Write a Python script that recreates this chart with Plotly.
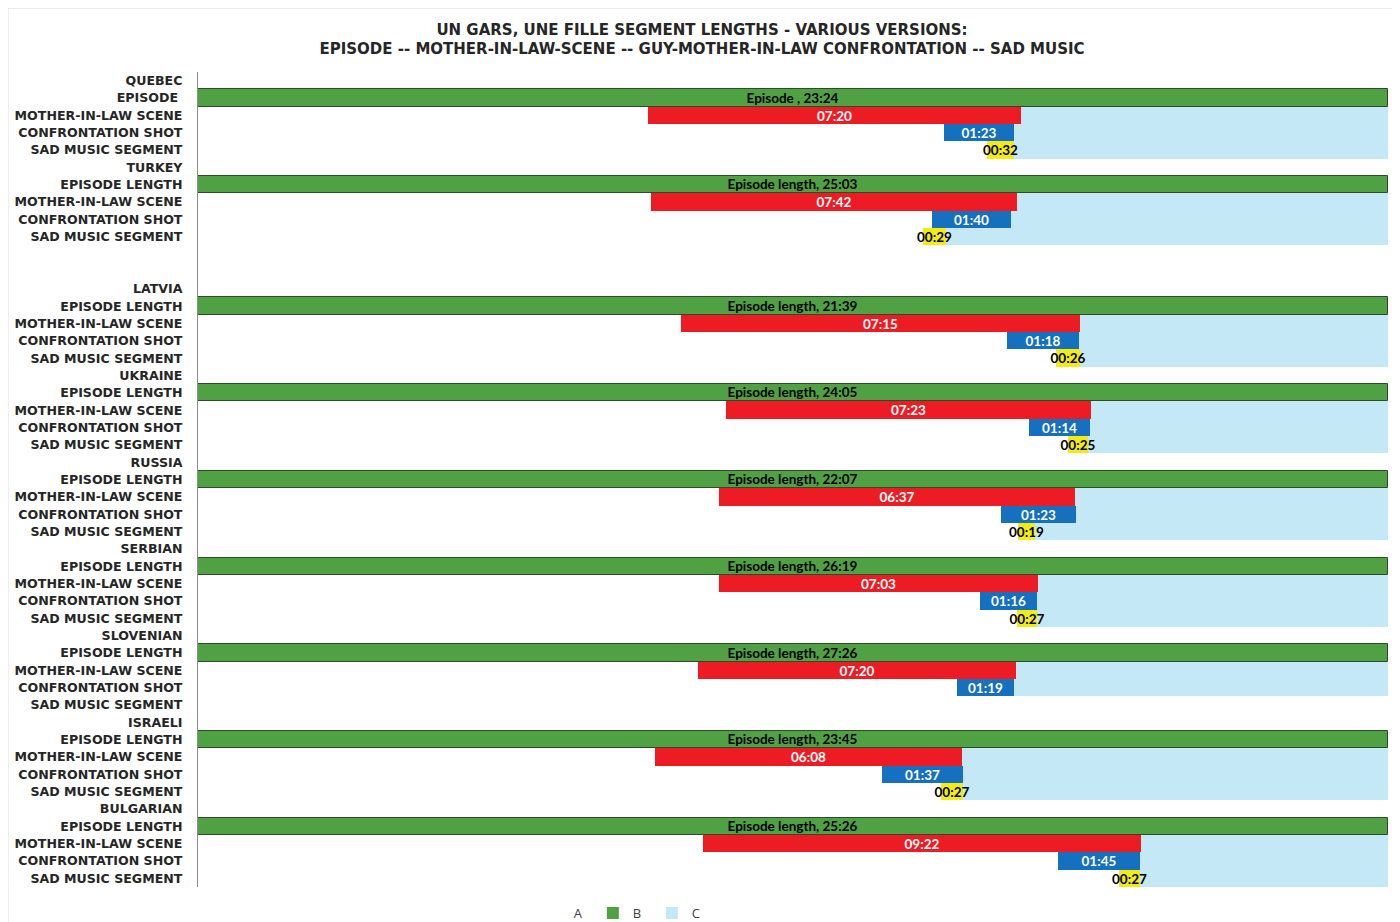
import plotly.graph_objects as go

# ---------------- data ----------------
countries = ["QUEBEC", "TURKEY", "LATVIA", "UKRAINE", "RUSSIA",
             "SERBIAN", "SLOVENIAN", "ISRAELI", "BULGARIAN"]
episode_row_labels = ["EPISODE\u00a0", "EPISODE LENGTH", "EPISODE LENGTH", "EPISODE LENGTH",
                      "EPISODE LENGTH", "EPISODE LENGTH", "EPISODE LENGTH",
                      "EPISODE LENGTH", "EPISODE LENGTH"]
episode_text_prefix = ["Episode , ", "Episode length, ", "Episode length, ", "Episode length, ",
                       "Episode length, ", "Episode length, ", "Episode length, ",
                       "Episode length, ", "Episode length, "]
episode_len = ["23:24", "25:03", "21:39", "24:05", "22:07", "26:19", "27:26", "23:45", "25:26"]

mil_len = ["07:20", "07:42", "07:15", "07:23", "06:37", "07:03", "07:20", "06:08", "09:22"]
mil_start = [0.378, 0.381, 0.406, 0.444, 0.438, 0.438, 0.420, 0.384, 0.424]   # fraction of episode

conf_len = ["01:23", "01:40", "01:18", "01:14", "01:23", "01:16", "01:19", "01:37", "01:45"]
conf_start = [0.627, 0.617, 0.680, 0.698, 0.675, 0.657, 0.638, 0.575, 0.723]

sad_len = ["00:32", "00:29", "00:26", "00:25", "00:19", "00:27", None, "00:27", "00:27"]
sad_start = [0.663, 0.609, 0.721, 0.731, 0.689, 0.688, None, 0.624, 0.774]

blank_after = "TURKEY"   # two empty rows follow this block

segment_labels = ["MOTHER-IN-LAW SCENE", "CONFRONTATION SHOT", "SAD MUSIC SEGMENT"]

# ---------------- styles ----------------
GREEN = "#50A044"
RED = "#ED1C24"
BLUE = "#1570C0"
YELLOW = "#F2EC12"
LIGHT = "#C5E8F7"
TXT = "#262626"


def secs(t):
    m, s = t.split(":")
    return int(m) * 60 + int(s)


tick_text, a_vals, b_vals, c_vals = [], [], [], []
b_colors, b_text, b_textcol, b_linew = [], [], [], []


def add_row(label, a, b, c, col, txt, tcol, lw):
    tick_text.append(label)
    a_vals.append(a)
    b_vals.append(b)
    c_vals.append(c)
    b_colors.append(col)
    b_text.append(txt)
    b_textcol.append(tcol)
    b_linew.append(lw)


for i, ctry in enumerate(countries):
    ep = secs(episode_len[i])
    add_row(ctry, None, None, None, GREEN, "", TXT, 0)
    add_row(episode_row_labels[i], 0, 1, 0, GREEN,
            episode_text_prefix[i] + episode_len[i], "black", 1)
    segs = [(mil_start[i], mil_len[i], RED, "white"),
            (conf_start[i], conf_len[i], BLUE, "white"),
            (sad_start[i], sad_len[i], YELLOW, "black")]
    for lab, (st, ln, col, tcol) in zip(segment_labels, segs):
        if ln is None:
            add_row(lab, None, None, None, col, "", tcol, 0)
        else:
            frac = secs(ln) / ep
            add_row(lab, st, frac, 1 - st - frac, col, ln, tcol, 0)
    if ctry == blank_after:
        add_row("", None, None, None, GREEN, "", TXT, 0)
        add_row("", None, None, None, GREEN, "", TXT, 0)

ypos = list(range(len(tick_text)))
b_base = [a if a is not None else 0 for a in a_vals]
c_base = [(a + b) if (a is not None and b is not None) else 0 for a, b in zip(a_vals, b_vals)]

fig = go.Figure()
# C drawn first so that the B labels sit on top of it
fig.add_trace(go.Bar(
    name="C", y=ypos, x=c_vals, base=c_base, orientation="h",
    marker=dict(color=LIGHT, line=dict(width=0)), legendrank=3,
))
fig.add_trace(go.Bar(
    name="A", y=ypos, x=a_vals, orientation="h",
    marker=dict(color="rgba(0,0,0,0)", line=dict(width=0)),
    hoverinfo="skip", legendrank=1,
))
fig.add_trace(go.Bar(
    name="B", y=ypos, x=b_vals, base=b_base, orientation="h",
    marker=dict(color=b_colors, line=dict(color="#2E4A28", width=b_linew)),
    text=b_text, textposition="inside", insidetextanchor="middle",
    textangle=0, constraintext="none",
    textfont=dict(family="Lato", size=13.5, color=b_textcol, weight="bold"),
    legendrank=2,
))

fig.update_layout(
    width=1392, height=914,
    barmode="overlay", bargap=0.0,
    paper_bgcolor="white", plot_bgcolor="white",
    margin=dict(l=190, r=12, t=64, b=35, autoexpand=False),
    title=dict(
        text="UN GARS, UNE FILLE SEGMENT LENGTHS - VARIOUS VERSIONS:<br>"
             "EPISODE -- MOTHER-IN-LAW-SCENE -- GUY-MOTHER-IN-LAW CONFRONTATION -- SAD MUSIC",
        x=(702 - 8) / 1392, xref="container", y=1 - 26.5 / 914, yref="container",
        xanchor="center", yanchor="middle",
        font=dict(family="DejaVu Sans", size=15, color=TXT, weight="bold"),
    ),
    xaxis=dict(range=[0, 1], visible=False, showgrid=False, zeroline=False),
    yaxis=dict(
        range=[len(tick_text) - 0.5, -0.5],
        tickmode="array", tickvals=ypos, ticktext=tick_text,
        showgrid=False, zeroline=False, automargin=False,
        showline=True, linecolor="#8C8C8C", linewidth=1,
        ticks="", ticklabelstandoff=12,
        tickfont=dict(family="DejaVu Sans", size=12.6, color=TXT, weight="bold"),
    ),
    legend=dict(
        orientation="h", x=0.3566, xanchor="center",
        yref="container", y=9 / 914, yanchor="middle",
        font=dict(family="Open Sans", size=13, color="#404040"),
        itemwidth=30, entrywidth=14, entrywidthmode="pixels", traceorder="normal",
    ),
    showlegend=True,
    font=dict(family="DejaVu Sans", color=TXT),
    shapes=[dict(type="rect", xref="paper", yref="paper",
                 x0=-0.1597, x1=1.0076, y0=-0.06, y1=1.0785,
                 line=dict(color="#D9D9D9", width=1), fillcolor="rgba(0,0,0,0)",
                 layer="below")],
)

fig.write_html("out.html")
